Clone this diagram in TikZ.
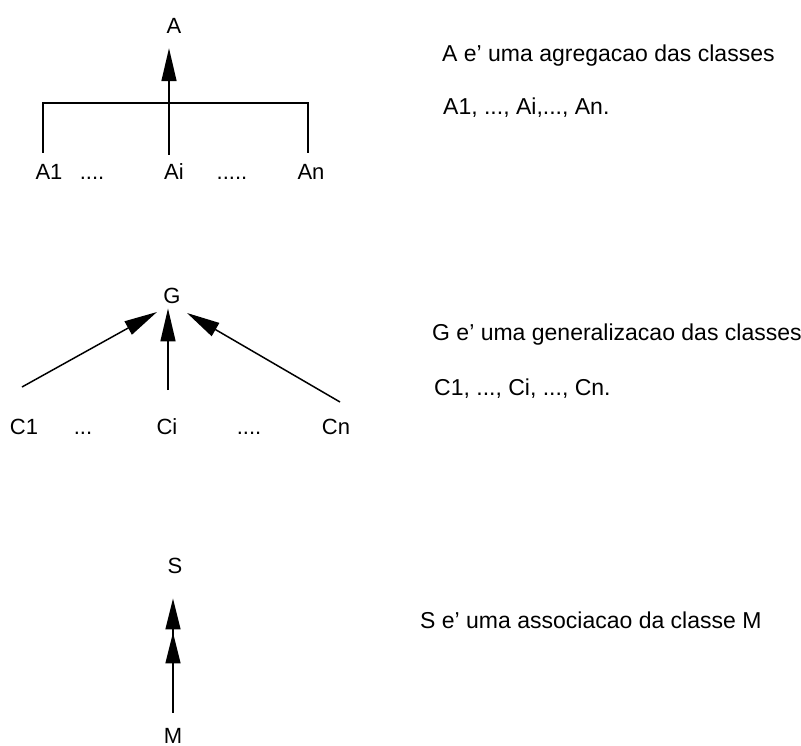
\documentclass[tikz,border=0pt]{standalone}
\usepackage{fontspec}
\setmainfont{Liberation Sans}
\usetikzlibrary{arrows.meta}
\tikzset{
  lbl/.style={inner sep=1pt, anchor=base, font=\fontsize{22}{26}\selectfont},
  txt/.style={inner sep=0pt, anchor=base west, font=\fontsize{23}{27}\selectfont},
  ln/.style={line width=1.5pt},
  tri/.style={ln, -{Triangle[length=33pt,width=15pt]}},
  dtri/.style={ln, -{Triangle[length=31pt,width=15pt,sep=3pt]Triangle[length=31pt,width=15pt]}}
}
\begin{document}
\begin{tikzpicture}[x=1pt,y=-1pt]
\useasboundingbox (0,0) rectangle (801,746);
% --- aggregation
\node[lbl] (A) at (174,34) {A};
\node[lbl] (A1) at (49,180) {A1};
\node[lbl] (d1) at (92,180) {....};
\node[lbl] (Ai) at (174,180) {Ai};
\node[lbl] (d2) at (232,180) {.....};
\node[lbl] (An) at (311,180) {An};
\coordinate (bar) at (169,103);
\coordinate (barL) at (43,103);
\coordinate (barR) at (308,103);
\draw[ln] ([xshift=-6pt,yshift=11pt]A1.north) -- (barL) -- (barR) -- ([xshift=-3pt,yshift=11pt]An.north);
\draw[ln] ([xshift=-5pt,yshift=8pt]Ai.north) -- (bar);
\draw[tri, shorten >=13pt] (bar) -- (bar |- A.south);
\node[txt] (ta1) at (442,62) {A e' uma agregacao das classes};
\node[txt] (ta2) at (443,115) {A1, ..., Ai,..., An.};
% --- generalization
\node[lbl] (G) at (172,303) {G};
\node[lbl] (C1) at (24,434) {C1};
\node[lbl] (e1) at (83,434) {...};
\node[lbl] (Ci) at (167,434) {Ci};
\node[lbl] (e2) at (249,434) {....};
\node[lbl] (Cn) at (336,434) {Cn};
\coordinate (t1) at (22,387);
\coordinate (t3) at (340,402);
\coordinate (g1) at (157,312);
\coordinate (g3) at (187,313);
\coordinate (ct) at (168,390);
\draw[tri] (t1) -- (g1);
\draw[tri, shorten >=4pt] (ct) -- (ct |- G.south);
\draw[tri] (t3) -- (g3);
\node[txt] (tg1) at (432,340) {G e' uma generalizacao das classes};
\node[txt] (tg2) at (434,395) {C1, ..., Ci, ..., Cn.};
% --- association
\node[lbl] (S) at (175,573) {S};
\node[lbl] (M) at (173,743) {M};
\draw[dtri, shorten >=24pt] ([xshift=0pt,yshift=14pt]M.north) -- (M.north |- S.south);
\node[txt] (ts) at (420,628) {S e' uma associacao da classe M};
\end{tikzpicture}
\end{document}
